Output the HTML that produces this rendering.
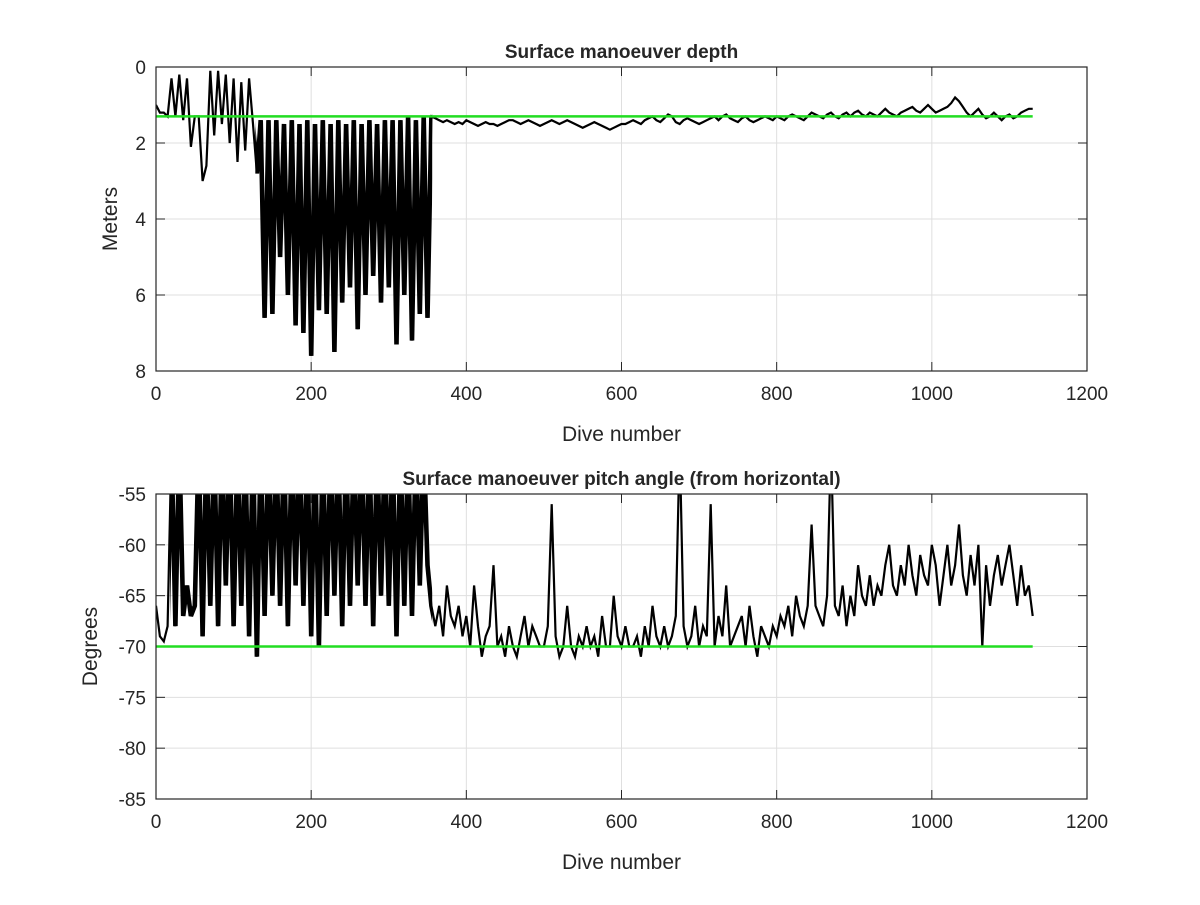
<!DOCTYPE html>
<html><head><meta charset="utf-8"><style>
body{margin:0;background:#fff;}
svg text{font-family:"Liberation Sans",Arial,sans-serif;fill:#262626;}
</style></head><body>
<svg id="chart" width="1200" height="900" xmlns="http://www.w3.org/2000/svg">
<rect width="1200" height="900" fill="#fff"/>
</svg>
<script>
const STEP = 5;
const depthVals = [1.0,1.2,1.2,1.3,
0.3,1.3,0.2,1.4,0.3,2.1,1.3,1.3,3.0,2.6,
0.1,1.8,0.1,1.5,0.2,2.0,0.3,2.5,0.4,2.2,0.3,1.5,
2.8,1.4,6.6,1.4,6.5,1.4,5.0,1.5,6.0,1.4,6.8,1.5,7.0,1.4,7.6,1.5,6.4,1.4,6.5,1.5,7.5,1.4,6.2,1.5,5.8,1.4,6.9,1.5,6.0,1.4,5.5,1.5,6.2,1.4,5.8,1.4,7.3,1.4,6.0,1.3,7.2,1.4,6.5,1.3,6.6,1.3,
1.35,1.4,1.45,1.4,1.45,1.5,1.45,1.5,1.4,1.45,1.5,1.55,1.5,1.45,1.5,1.5,1.55,1.5,1.45,1.4,1.4,1.45,1.5,1.45,1.4,1.45,1.5,1.55,1.5,1.45,1.4,1.45,1.5,1.45,1.4,1.45,1.5,1.55,1.6,1.55,1.5,1.45,1.5,1.55,1.6,1.65,1.6,1.55,1.5,
1.5,1.45,1.4,1.45,1.5,1.4,1.35,1.3,1.4,1.45,1.35,1.25,1.3,1.45,1.5,1.4,1.35,1.4,1.45,1.5,1.45,1.4,1.35,1.3,1.4,1.3,1.25,1.35,1.4,1.45,1.35,1.3,1.4,1.45,1.4,1.35,1.3,1.35,1.4,1.3,
1.35,1.4,1.3,1.25,1.3,1.35,1.4,1.3,1.2,1.25,1.3,1.35,1.25,1.2,1.3,1.35,1.25,1.2,1.3,1.2,1.15,1.25,1.3,1.2,1.25,1.3,1.2,1.1,1.2,1.25,1.3,1.2,1.15,1.1,1.05,1.15,1.2,1.1,1.0,1.1,1.2,1.15,1.1,1.05,0.95,0.8,0.9,1.05,1.2,1.3,1.2,1.1,1.25,1.35,1.3,1.2,1.3,1.4,1.3,1.25,1.35,1.3,1.2,1.15,1.1,1.1];
const pitchVals = [-66,-69,-69.5,-68,
-50,-68,-50,-67,-64,-67,-66,
-50,-69,-50,-66,-50,-68,-50,-64,-50,-68,-50,-66,-50,-69,-50,-71,-50,-67,-50,-65,-50,-66,-50,-68,-50,-64,-50,-66,-50,-69,-50,-70,-50,-67,-50,-65,-50,-68,-50,-66,-50,-64,-50,-66,-50,-68,-50,-65,-50,-66,-50,-69,-50,-66,-50,-67,-50,-64,-50,-62,-66,
-68,-66,-69,-64,-67,-68,-66,-69,-67,-70,-64,-68,-71,-69,-68,-62,-70,-69,-71,-68,-70,-71,-69,-67,-70,-68,-69,-70,-70,-68,-56,-69,-71,-70,-66,-70,-71,-69,-70,-68,-70,-69,-71,-67,-70,-70,-65,-69,-70,-68,-70,-70,-69,-71,-68,-70,-66,-69,-70,-68,-70,-69,-67,-50,-68,-70,-69,-66,-70,-68,-69,-56,-70,-67,-69,-64,-70,-69,-68,-67,-70,-66,-69,-71,-68,-69,-70,-68,-69,
-67,-68,-66,-69,-65,-67,-68,-66,-58,-66,-67,-68,-65,-50,-66,-67,-64,-68,-65,-67,-62,-65,-66,-63,-66,-64,-65,-62,-60,-64,-65,-62,-64,-60,-63,-65,-61,-63,-64,-60,-62,-66,-63,-60,-64,-62,-58,-63,-65,-61,-64,-60,-70,-62,-66,-63,-61,-64,-62,-60,-63,-66,-62,-65,-64,-67];
const xTicks = [0,200,400,600,800,1000,1200];
const depthTicks = [0,2,4,6,8];
const pitchTicks = [-55,-60,-65,-70,-75,-80,-85];
const depthRef = [1.3];
const pitchRef = [-70];
const refEnd = [1130];

const NS="http://www.w3.org/2000/svg";
const svg=document.getElementById('chart');
function mk(t,a,p){const e=document.createElementNS(NS,t);for(const k in a)e.setAttribute(k,a[k]);(p||svg).appendChild(e);return e;}
const L=156,R=1087;
const xs=v=>L+(v/1200)*(R-L);

function panel(cfg){
  const g=mk('g',{});
  
  
  const T=cfg.top,B=cfg.bot;
  const ys=v=>T+(v-cfg.y0)/(cfg.y1-cfg.y0)*(B-T);
  mk('rect',{x:L,y:T,width:R-L,height:B-T,fill:'#fff'},g);
  xTicks.forEach(t=>{const x=xs(t);
    const gl=mk('line',{x1:x,x2:x,y1:T,y2:B,stroke:'#dfdfdf','stroke-width':1},g);
    
    mk('line',{x1:x,x2:x,y1:B,y2:B-9,stroke:'#262626'},g);mk('line',{x1:x,x2:x,y1:T,y2:T+9,stroke:'#262626'},g);
    const tx=mk('text',{x:x,y:B+29,'text-anchor':'middle','font-size':19},g);tx.textContent=t;
    });
  cfg.ticks.forEach(t=>{const y=ys(t);
    const gl=mk('line',{x1:L,x2:R,y1:y,y2:y,stroke:'#dfdfdf','stroke-width':1},g);
    
    mk('line',{x1:L,x2:L+9,y1:y,y2:y,stroke:'#262626'},g);mk('line',{x1:R,x2:R-9,y1:y,y2:y,stroke:'#262626'},g);
    const tx=mk('text',{x:L-10,y:y+7,'text-anchor':'end','font-size':19},g);tx.textContent=t;
    });
  const cp=mk('clipPath',{id:cfg.name+'-clip'},g);mk('rect',{x:L,y:T,width:R-L,height:B-T},cp);
  const cp2=mk('clipPath',{id:cfg.name+'-dense'},g);mk('rect',{x:xs(cfg.dense[0]),y:T,width:xs(cfg.dense[1])-xs(cfg.dense[0]),height:B-T},cp2);
  const pts=cfg.vals.map((v,i)=>xs(i*STEP).toFixed(1)+','+ys(v).toFixed(1)).join(' ');
  const pl=mk('polyline',{points:pts,fill:'none',stroke:'#000','stroke-width':2.2,'stroke-linejoin':'miter','clip-path':'url(#'+cfg.name+'-clip)'},g);
  
  const g2=mk('g',{'clip-path':'url(#'+cfg.name+'-dense)'},g);
  const pl2=mk('polyline',{points:pts,fill:'none',stroke:'#000','stroke-width':4.6,'stroke-linejoin':'bevel','clip-path':'url(#'+cfg.name+'-clip)'},g2);
  
  const ref=mk('line',{x1:xs(0),x2:xs(refEnd[0]),y1:ys(cfg.ref[0]),y2:ys(cfg.ref[0]),stroke:'#22dd22','stroke-width':2.5},g);
  
  mk('rect',{x:L,y:T,width:R-L,height:B-T,fill:'none',stroke:'#262626','stroke-width':1.2},g);
  const ti=mk('text',{x:(L+R)/2,y:T-9,'text-anchor':'middle','font-size':19,'font-weight':'bold'},g);ti.textContent=cfg.title;
  
  const xl=mk('text',{x:(L+R)/2,y:B+70,'text-anchor':'middle','font-size':21},g);xl.textContent='Dive number';
  
  const yx=cfg.ylx,yy=(T+B)/2;
  const yl=mk('text',{x:yx,y:yy,'text-anchor':'middle','font-size':21,transform:'rotate(-90 '+yx+' '+yy+')'},g);yl.textContent=cfg.ylabel;
  
}
panel({name:'depth-panel',top:67,bot:371,y0:0,y1:8,ticks:depthTicks,vals:depthVals,ref:depthRef,dense:[128,356],title:'Surface manoeuver depth',ylabel:'Meters',ylx:117});
panel({name:'pitch-panel',top:494,bot:799,y0:-55,y1:-85,ticks:pitchTicks,vals:pitchVals,ref:pitchRef,dense:[18,356],title:'Surface manoeuver pitch angle (from horizontal)',ylabel:'Degrees',ylx:97});
</script>
</body></html>
